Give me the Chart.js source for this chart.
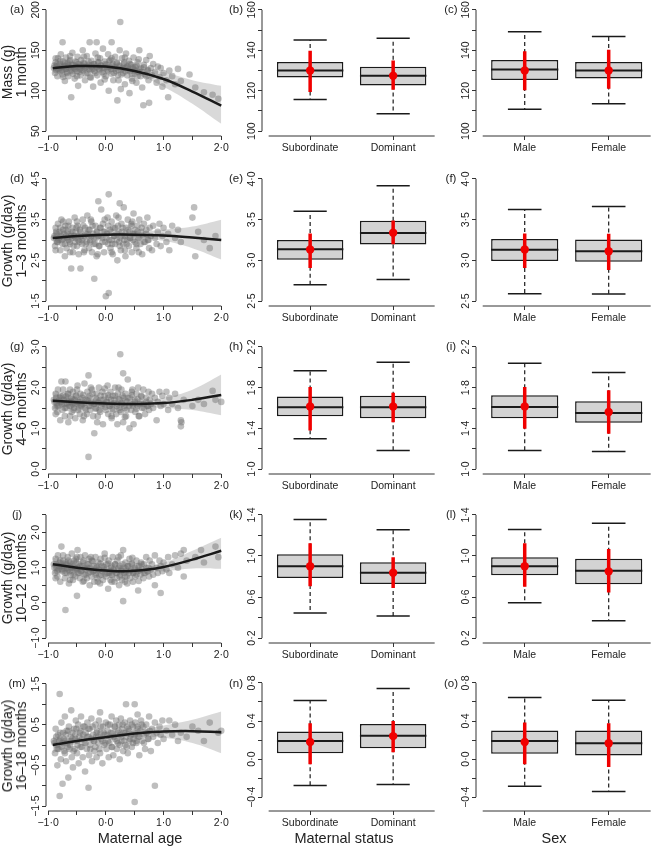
<!DOCTYPE html>
<html>
<head>
<meta charset="utf-8">
<script src="https://cdn.jsdelivr.net/npm/chart.js@4.4.0/dist/chart.umd.min.js"></script>
<style>
  body { margin: 0; background: #fff; width: 651px; height: 848px; overflow: hidden; position: relative;
         font-family: "Liberation Sans", Arial, sans-serif; color: #222; }
  canvas { position: absolute; left: 0; top: 0; }
  .tag { position: absolute; font-size: 11.5px; transform: translate(-50%, -50%); white-space: nowrap; }
  .ytitle { position: absolute; font-size: 14px; line-height: 14px; text-align: center; white-space: nowrap;
            transform: translate(-50%, -50%) rotate(-90deg); }
  .xtitle { position: absolute; font-size: 14.5px; transform: translate(-50%, -50%); white-space: nowrap; }
</style>
</head>
<body>
<script>
// ---- data ----
const ageTicks = [-1, -0.5, 0, 0.5, 1, 1.5, 2];
const fitX = [-0.92, -0.5, 0, 0.5, 1, 1.5, 2];
const statusCats = ["Subordinate", "Dominant"];
const sexCats = ["Male", "Female"];

// (a)-(c) mass at 1 month
const massPts = [[-0.9,128],[-0.88,122],[-0.87,135],[-0.85,130],[-0.84,118],[-0.83,140],[-0.82,126],[-0.8,133],[-0.79,124],[-0.78,145],[-0.77,129],[-0.75,160],[-0.75,120],[-0.74,136],[-0.72,131],[-0.71,112],[-0.7,127],[-0.69,141],[-0.68,123],[-0.66,134],[-0.65,118],[-0.64,129],[-0.62,138],[-0.61,125],[-0.6,92],[-0.59,132],[-0.58,147],[-0.57,121],[-0.55,128],[-0.54,115],[-0.53,136],[-0.52,130],[-0.5,124],[-0.49,142],[-0.48,106],[-0.47,133],[-0.45,127],[-0.44,119],[-0.43,138],[-0.41,131],[-0.4,150],[-0.39,125],[-0.37,134],[-0.36,113],[-0.35,129],[-0.33,143],[-0.32,122],[-0.3,132],[-0.29,127],[-0.28,160],[-0.27,117],[-0.25,137],[-0.24,129],[-0.22,105],[-0.21,133],[-0.2,124],[-0.18,146],[-0.17,130],[-0.16,160],[-0.15,119],[-0.13,135],[-0.12,127],[-0.1,140],[-0.09,110],[-0.08,131],[-0.06,123],[-0.05,152],[-0.03,128],[-0.02,136],[0,118],[0.01,132],[0.03,126],[0.04,145],[0.05,100],[0.07,129],[0.08,138],[0.1,160],[0.1,121],[0.12,133],[0.13,113],[0.15,127],[0.16,142],[0.18,124],[0.19,135],[0.2,88],[0.21,119],[0.23,131],[0.24,150],[0.25,185],[0.26,102],[0.27,126],[0.28,140],[0.3,122],[0.31,133],[0.33,108],[0.34,128],[0.35,146],[0.37,119],[0.38,130],[0.4,137],[0.41,97],[0.42,124],[0.44,132],[0.45,115],[0.47,127],[0.48,141],[0.5,121],[0.51,129],[0.53,110],[0.55,135],[0.56,123],[0.58,150],[0.6,118],[0.61,128],[0.63,104],[0.65,82],[0.66,132],[0.68,120],[0.7,138],[0.72,125],[0.74,113],[0.75,85],[0.76,143],[0.78,128],[0.8,119],[0.82,133],[0.85,123],[0.88,110],[0.9,130],[0.93,117],[0.95,128],[0.98,105],[1.0,122],[1.05,113],[1.08,92],[1.1,125],[1.15,118],[1.2,108],[1.25,127],[1.3,112],[1.45,120],[1.55,104],[1.7,98],[1.85,95],[1.95,90]];
const massCore = [[-0.89,131],[-0.86,126],[-0.84,133],[-0.81,128],[-0.79,137],[-0.76,125],[-0.73,130],[-0.71,134],[-0.69,127],[-0.67,122],[-0.65,131],[-0.63,136],[-0.6,128],[-0.58,124],[-0.56,132],[-0.53,127],[-0.51,135],[-0.49,129],[-0.46,123],[-0.44,131],[-0.42,126],[-0.39,134],[-0.37,128],[-0.35,121],[-0.32,130],[-0.3,136],[-0.27,125],[-0.25,131],[-0.23,127],[-0.2,133],[-0.18,122],[-0.16,129],[-0.13,135],[-0.11,126],[-0.09,131],[-0.06,128],[-0.04,121],[-0.01,133],[0.02,129],[0.04,124],[0.06,137],[0.09,127],[0.11,131],[0.14,122],[0.16,129],[0.19,134],[0.22,126],[0.24,130],[0.27,120],[0.29,128],[0.32,135],[0.34,124],[0.36,130],[0.39,126],[0.42,133],[0.45,121],[0.47,129],[0.5,125],[0.53,131],[0.55,118],[0.58,127],[0.62,123],[0.66,129],[0.7,118],[0.73,126],[-0.87,140],[-0.74,117],[-0.62,143],[-0.5,118],[-0.38,142],[-0.26,116],[-0.14,141],[-0.02,114],[0.1,140],[0.22,113],[0.33,141],[0.46,112],[0.57,139]];
const massFit = [127.7, 130.5, 129.8, 124.5, 114.5, 99, 81.5];
const massLo = [121, 128, 127.5, 121, 105, 84, 59];
const massHi = [135, 133, 132, 128, 123, 113, 106];
const massTicks = [50, 100, 150, 200];
const massBoxTicks = [100, 110, 120, 130, 140, 150, 160];
// box rows: [lower whisker, q1, median, q3, upper whisker]; estimate rows: [mean, lower, upper]
const massStatusBox = [[115.6, 126.5, 130, 134.2, 145.1], [108.6, 122.6, 127.4, 131.8, 146]];
const massStatusEst = [[130, 119.4, 139.8], [127.4, 120.5, 135]];
const massSexBox = [[110.8, 125.3, 130.5, 135.2, 149.2], [113.6, 126, 130, 134.2, 146.8]];
const massSexEst = [[130, 120.2, 139.5], [130, 121, 140.3]];

// (d)-(f) growth 1-3 months
const g13Pts = [[-0.9,3.05],[-0.88,2.85],[-0.87,3.3],[-0.85,3.15],[-0.84,2.95],[-0.83,3.4],[-0.82,3.0],[-0.8,3.2],[-0.79,2.75],[-0.78,3.1],[-0.77,3.5],[-0.75,2.9],[-0.74,3.25],[-0.72,3.05],[-0.71,2.6],[-0.7,3.35],[-0.69,3.1],[-0.68,2.8],[-0.66,3.2],[-0.65,3.0],[-0.64,3.45],[-0.62,2.9],[-0.61,3.15],[-0.6,2.3],[-0.59,3.05],[-0.58,3.3],[-0.57,2.7],[-0.55,3.1],[-0.54,3.55],[-0.53,2.95],[-0.52,3.2],[-0.5,2.85],[-0.49,3.35],[-0.48,3.0],[-0.47,2.65],[-0.45,3.25],[-0.44,2.3],[-0.43,3.1],[-0.41,2.9],[-0.4,3.5],[-0.39,3.05],[-0.37,2.75],[-0.36,3.3],[-0.35,3.15],[-0.33,2.95],[-0.32,3.6],[-0.3,3.1],[-0.29,2.8],[-0.28,3.25],[-0.27,3.0],[-0.25,3.45],[-0.24,2.7],[-0.22,3.15],[-0.21,2.9],[-0.2,2.05],[-0.18,3.35],[-0.17,3.05],[-0.16,2.6],[-0.15,3.2],[-0.13,3.95],[-0.12,2.85],[-0.1,3.3],[-0.09,3.1],[-0.08,3.75],[-0.06,2.95],[-0.05,3.4],[-0.03,2.7],[-0.02,3.2],[0,1.62],[0.01,3.05],[0.03,3.55],[0.04,2.9],[0.05,4.12],[0.05,1.7],[0.07,3.25],[0.08,2.8],[0.1,3.45],[0.1,3.0],[0.12,2.65],[0.13,3.3],[0.15,3.1],[0.16,2.9],[0.18,3.6],[0.19,3.15],[0.2,2.5],[0.21,3.35],[0.23,2.95],[0.24,3.9],[0.25,3.05],[0.26,2.75],[0.27,3.4],[0.28,3.2],[0.3,2.9],[0.31,3.8],[0.33,3.1],[0.34,2.6],[0.35,3.3],[0.37,3.0],[0.38,3.5],[0.4,2.85],[0.41,3.2],[0.42,3.05],[0.44,3.4],[0.45,2.7],[0.47,3.15],[0.48,3.65],[0.5,2.95],[0.51,3.25],[0.53,2.8],[0.55,3.35],[0.56,3.05],[0.58,3.5],[0.6,2.9],[0.61,3.2],[0.63,2.65],[0.65,3.1],[0.66,3.4],[0.68,2.95],[0.7,3.25],[0.72,3.55],[0.74,3.0],[0.75,2.8],[0.76,3.3],[0.78,3.1],[0.8,2.75],[0.82,3.35],[0.85,3.05],[0.88,2.9],[0.9,3.2],[0.93,3.4],[0.95,2.85],[0.98,3.1],[1.0,3.3],[1.05,2.95],[1.08,3.15],[1.1,2.75],[1.15,3.35],[1.2,3.05],[1.25,3.25],[1.3,2.95],[1.5,3.55],[1.53,3.8],[1.55,2.6],[1.6,3.2],[1.7,3.0],[1.8,2.8],[1.9,3.1]];
const g13Core = [[-0.89,3.1],[-0.86,3.2],[-0.84,2.95],[-0.81,3.05],[-0.79,3.3],[-0.76,3.0],[-0.73,3.15],[-0.71,2.9],[-0.69,3.25],[-0.67,3.05],[-0.65,3.35],[-0.63,2.95],[-0.6,3.1],[-0.58,3.2],[-0.56,2.85],[-0.53,3.05],[-0.51,3.3],[-0.49,3.1],[-0.46,2.95],[-0.44,3.2],[-0.42,3.0],[-0.39,3.35],[-0.37,3.1],[-0.35,2.9],[-0.32,3.15],[-0.3,3.25],[-0.27,2.95],[-0.25,3.1],[-0.23,3.35],[-0.2,3.05],[-0.18,2.9],[-0.16,3.2],[-0.13,3.1],[-0.11,2.85],[-0.09,3.3],[-0.06,3.05],[-0.04,3.2],[-0.01,2.95],[0.02,3.15],[0.04,3.35],[0.06,3.0],[0.09,3.2],[0.11,2.9],[0.14,3.1],[0.16,3.3],[0.19,3.0],[0.22,3.2],[0.24,2.85],[0.27,3.1],[0.29,3.3],[0.32,3.0],[0.34,3.15],[0.36,2.9],[0.39,3.25],[0.42,3.05],[0.45,3.35],[0.47,3.0],[0.5,3.15],[0.53,2.9],[0.55,3.2],[0.58,3.05],[0.62,3.3],[0.66,2.95],[0.7,3.15],[0.73,3.0],[-0.87,2.75],[-0.74,3.45],[-0.62,2.7],[-0.5,3.45],[-0.38,2.7],[-0.26,3.5],[-0.14,2.65],[-0.02,3.5],[0.1,2.7],[0.22,3.55],[0.33,2.75],[0.46,3.45],[0.57,2.7]];
const g13Fit = [3.05, 3.1, 3.13, 3.13, 3.11, 3.06, 3.0];
const g13Lo = [2.88, 3.05, 3.09, 3.07, 2.98, 2.8, 2.52];
const g13Hi = [3.25, 3.16, 3.17, 3.19, 3.25, 3.33, 3.5];
const g13Ticks = [1.5, 2, 2.5, 3, 3.5, 4, 4.5];
const g13BoxTicks = [2.5, 3, 3.5, 4];
const g13StatusBox = [[2.7, 3.008, 3.138, 3.25, 3.603], [2.765, 3.194, 3.336, 3.486, 3.915]];
const g13StatusEst = [[3.134, 2.907, 3.33], [3.34, 3.198, 3.49]];
const g13SexBox = [[2.591, 2.992, 3.13, 3.263, 3.623], [2.587, 2.984, 3.113, 3.255, 3.66]];
const g13SexEst = [[3.134, 2.907, 3.33], [3.113, 2.883, 3.328]];

// (g)-(i) growth 4-6 months
const g46Pts = [[-0.9,1.7],[-0.88,1.5],[-0.87,1.85],[-0.85,1.62],[-0.84,1.4],[-0.83,1.95],[-0.82,1.55],[-0.8,1.75],[-0.79,1.2],[-0.78,1.65],[-0.77,2.15],[-0.75,1.45],[-0.74,1.8],[-0.72,1.6],[-0.71,1.3],[-0.7,2.15],[-0.69,1.7],[-0.68,1.5],[-0.66,1.85],[-0.65,1.15],[-0.64,1.65],[-0.62,1.95],[-0.61,1.55],[-0.6,1.75],[-0.59,1.4],[-0.58,1.6],[-0.57,1.9],[-0.55,1.5],[-0.54,1.7],[-0.53,1.25],[-0.52,1.8],[-0.5,1.6],[-0.49,2.05],[-0.48,1.45],[-0.47,1.65],[-0.45,1.35],[-0.44,1.85],[-0.43,1.55],[-0.41,1.75],[-0.4,1.2],[-0.39,1.6],[-0.37,2.1],[-0.36,1.5],[-0.35,1.7],[-0.33,1.35],[-0.32,1.9],[-0.3,2.3],[-0.3,0.3],[-0.29,1.55],[-0.28,1.8],[-0.27,1.45],[-0.25,1.65],[-0.24,1.95],[-0.22,1.3],[-0.21,1.6],[-0.2,0.88],[-0.18,1.75],[-0.17,1.5],[-0.16,1.85],[-0.15,1.15],[-0.13,1.65],[-0.12,2.0],[-0.1,1.4],[-0.09,1.7],[-0.08,1.55],[-0.06,1.9],[-0.05,1.1],[-0.03,1.6],[-0.02,1.8],[0,1.45],[0.01,1.65],[0.03,2.05],[0.04,1.35],[0.05,1.75],[0.07,1.55],[0.08,1.9],[0.1,1.25],[0.1,1.6],[0.12,1.8],[0.13,1.45],[0.15,1.7],[0.16,2.0],[0.18,1.35],[0.19,1.6],[0.2,1.1],[0.21,1.85],[0.23,1.5],[0.24,1.7],[0.25,2.82],[0.26,1.4],[0.27,1.95],[0.28,1.6],[0.3,2.35],[0.3,1.15],[0.31,1.75],[0.33,1.5],[0.34,1.85],[0.35,1.3],[0.37,1.65],[0.38,2.2],[0.4,1.55],[0.41,1.0],[0.42,1.75],[0.44,1.45],[0.45,1.9],[0.47,1.6],[0.48,1.1],[0.5,1.7],[0.51,1.4],[0.53,1.85],[0.55,1.55],[0.56,2.0],[0.58,1.3],[0.6,1.65],[0.61,1.8],[0.63,1.5],[0.65,1.95],[0.66,1.6],[0.68,1.35],[0.7,1.75],[0.72,1.55],[0.74,1.9],[0.75,1.45],[0.76,1.7],[0.78,1.6],[0.8,1.85],[0.82,1.5],[0.85,1.75],[0.88,1.2],[0.9,1.65],[0.93,1.9],[0.95,1.55],[0.98,1.8],[1.0,1.6],[1.05,1.9],[1.08,1.45],[1.1,1.75],[1.15,1.6],[1.2,1.85],[1.25,1.5],[1.3,1.05],[1.3,1.2],[1.31,1.15],[1.35,1.7],[1.5,1.55],[1.6,1.7],[1.7,1.6],[1.85,1.92],[1.9,1.7],[2.0,1.65]];
const g46Core = [[-0.89,1.65],[-0.86,1.75],[-0.84,1.55],[-0.81,1.68],[-0.79,1.8],[-0.76,1.6],[-0.73,1.7],[-0.71,1.5],[-0.69,1.78],[-0.67,1.62],[-0.65,1.85],[-0.63,1.55],[-0.6,1.65],[-0.58,1.72],[-0.56,1.45],[-0.53,1.6],[-0.51,1.8],[-0.49,1.65],[-0.46,1.5],[-0.44,1.7],[-0.42,1.58],[-0.39,1.82],[-0.37,1.62],[-0.35,1.45],[-0.32,1.68],[-0.3,1.75],[-0.27,1.55],[-0.25,1.62],[-0.23,1.85],[-0.2,1.6],[-0.18,1.48],[-0.16,1.7],[-0.13,1.62],[-0.11,1.45],[-0.09,1.8],[-0.06,1.6],[-0.04,1.7],[-0.01,1.52],[0.02,1.65],[0.04,1.82],[0.06,1.55],[0.09,1.7],[0.11,1.48],[0.14,1.62],[0.16,1.8],[0.19,1.55],[0.22,1.72],[0.24,1.45],[0.27,1.62],[0.29,1.8],[0.32,1.55],[0.34,1.68],[0.36,1.45],[0.39,1.75],[0.42,1.6],[0.45,1.82],[0.47,1.55],[0.5,1.65],[0.53,1.48],[0.55,1.72],[0.58,1.6],[0.62,1.78],[0.66,1.5],[0.7,1.65],[0.73,1.55],[-0.87,1.35],[-0.74,1.95],[-0.62,1.3],[-0.5,1.95],[-0.38,1.3],[-0.26,2.0],[-0.14,1.3],[-0.02,1.98],[0.1,1.3],[0.22,2.0],[0.33,1.28],[0.46,1.95],[0.57,1.3]];
const g46Fit = [1.68, 1.64, 1.61, 1.6, 1.62, 1.7, 1.82];
const g46Lo = [1.47, 1.57, 1.56, 1.55, 1.5, 1.45, 1.32];
const g46Hi = [1.9, 1.72, 1.66, 1.66, 1.75, 1.95, 2.32];
const g46Ticks = [0, 0.5, 1, 1.5, 2, 2.5, 3];
const g46BoxTicks = [1, 1.2, 1.4, 1.6, 1.8, 2, 2.2];
const g46StatusBox = [[1.299, 1.518, 1.608, 1.714, 1.965], [1.183, 1.499, 1.608, 1.721, 2.049]];
const g46StatusEst = [[1.614, 1.379, 1.807], [1.614, 1.46, 1.75]];
const g46SexBox = [[1.183, 1.499, 1.611, 1.724, 2.039], [1.174, 1.454, 1.55, 1.666, 1.949]];
const g46SexEst = [[1.614, 1.396, 1.807], [1.56, 1.347, 1.775]];

// (j)-(l) growth 10-12 months
const g1012Pts = [[-0.9,1.1],[-0.88,0.85],[-0.87,1.25],[-0.85,1.0],[-0.84,0.75],[-0.83,1.35],[-0.82,0.95],[-0.8,1.15],[-0.79,0.6],[-0.78,1.05],[-0.77,1.6],[-0.75,0.9],[-0.74,1.2],[-0.72,1.0],[-0.71,0.7],[-0.7,-0.2],[-0.69,1.1],[-0.68,0.85],[-0.66,1.3],[-0.65,0.95],[-0.64,0.55],[-0.62,1.15],[-0.61,0.8],[-0.6,1.05],[-0.59,1.4],[-0.58,0.9],[-0.57,0.65],[-0.55,1.2],[-0.54,1.0],[-0.53,0.75],[-0.52,1.25],[-0.5,0.2],[-0.5,0.95],[-0.49,1.5],[-0.48,0.85],[-0.47,1.1],[-0.45,0.7],[-0.44,1.3],[-0.43,0.9],[-0.41,1.05],[-0.4,0.6],[-0.39,1.15],[-0.37,0.8],[-0.36,1.35],[-0.35,0.95],[-0.33,0.7],[-0.32,1.1],[-0.3,0.85],[-0.29,1.25],[-0.28,0.5],[-0.27,1.0],[-0.25,0.75],[-0.24,1.2],[-0.22,0.9],[-0.21,1.05],[-0.2,0.6],[-0.18,1.3],[-0.17,0.85],[-0.16,1.0],[-0.15,0.7],[-0.13,1.15],[-0.12,0.95],[-0.1,0.55],[-0.09,1.25],[-0.08,0.8],[-0.06,1.05],[-0.05,0.65],[-0.03,0.95],[-0.02,1.4],[0,0.75],[0.01,1.1],[0.03,0.85],[0.04,0.4],[0.05,1.2],[0.07,0.9],[0.08,0.65],[0.1,1.05],[0.1,0.8],[0.12,1.3],[0.13,0.95],[0.15,0.6],[0.16,1.1],[0.18,0.85],[0.19,0.7],[0.2,1.2],[0.21,0.95],[0.23,0.5],[0.24,1.05],[0.25,0.8],[0.26,1.35],[0.27,0.9],[0.28,0.65],[0.3,1.5],[0.3,0.05],[0.31,1.0],[0.33,0.75],[0.34,1.15],[0.35,0.9],[0.37,0.55],[0.38,1.05],[0.4,0.85],[0.41,1.25],[0.42,0.7],[0.44,0.95],[0.45,1.1],[0.47,0.6],[0.48,0.85],[0.5,1.0],[0.51,0.75],[0.53,1.2],[0.55,0.9],[0.56,0.35],[0.58,1.05],[0.6,0.8],[0.61,1.15],[0.63,0.95],[0.65,0.7],[0.66,1.1],[0.68,0.85],[0.7,1.3],[0.72,0.9],[0.74,1.0],[0.75,0.75],[0.76,1.2],[0.78,0.95],[0.8,1.1],[0.82,0.8],[0.85,1.35],[0.85,0.5],[0.88,1.0],[0.9,0.85],[0.93,1.2],[0.95,0.28],[0.95,1.05],[0.98,0.9],[1.0,1.15],[1.05,0.95],[1.08,1.3],[1.1,0.85],[1.15,1.1],[1.2,1.35],[1.25,1.0],[1.3,1.4],[1.35,1.5],[1.35,0.75],[1.4,1.2],[1.55,1.3],[1.65,1.5],[1.7,1.15],[1.9,1.6],[1.95,1.3]];
const g1012Core = [[-0.89,1.0],[-0.86,1.1],[-0.84,0.9],[-0.81,1.05],[-0.79,1.2],[-0.76,0.95],[-0.73,1.05],[-0.71,0.85],[-0.69,1.15],[-0.67,1.0],[-0.65,1.2],[-0.63,0.9],[-0.6,1.0],[-0.58,1.1],[-0.56,0.8],[-0.53,0.95],[-0.51,1.15],[-0.49,1.0],[-0.46,0.85],[-0.44,1.05],[-0.42,0.92],[-0.39,1.2],[-0.37,0.98],[-0.35,0.8],[-0.32,1.0],[-0.3,1.1],[-0.27,0.88],[-0.25,0.95],[-0.23,1.18],[-0.2,0.92],[-0.18,0.8],[-0.16,1.05],[-0.13,0.95],[-0.11,0.78],[-0.09,1.12],[-0.06,0.9],[-0.04,1.02],[-0.01,0.82],[0.02,0.95],[0.04,1.12],[0.06,0.85],[0.09,1.0],[0.11,0.78],[0.14,0.92],[0.16,1.1],[0.19,0.85],[0.22,1.0],[0.24,0.75],[0.27,0.92],[0.29,1.1],[0.32,0.85],[0.34,0.98],[0.36,0.75],[0.39,1.05],[0.42,0.9],[0.45,1.12],[0.47,0.85],[0.5,0.95],[0.53,0.8],[0.55,1.05],[0.58,0.92],[0.62,1.1],[0.66,0.85],[0.7,1.0],[0.73,0.9],[-0.87,0.7],[-0.74,1.35],[-0.62,0.65],[-0.5,1.3],[-0.38,0.62],[-0.26,1.3],[-0.14,0.6],[-0.02,1.28],[0.1,0.6],[0.22,1.3],[0.33,0.6],[0.46,1.28],[0.57,0.62]];
const g1012Fit = [1.1, 1.0, 0.92, 0.91, 1.02, 1.23, 1.48];
const g1012Lo = [0.82, 0.93, 0.88, 0.86, 0.9, 0.98, 0.97];
const g1012Hi = [1.3, 1.07, 0.96, 0.96, 1.14, 1.48, 1.85];
const g1012Ticks = [-1, -0.5, 0, 0.5, 1, 1.5, 2, 2.5];
const g1012BoxTicks = [0.2, 0.4, 0.6, 0.8, 1, 1.2, 1.4];
const g1012StatusBox = [[0.444, 0.785, 0.901, 1.017, 1.355], [0.415, 0.728, 0.837, 0.94, 1.255]];
const g1012StatusEst = [[0.9, 0.705, 1.123], [0.837, 0.689, 0.988]];
const g1012SexBox = [[0.544, 0.811, 0.901, 0.988, 1.258], [0.37, 0.724, 0.856, 0.972, 1.32]];
const g1012SexEst = [[0.9, 0.699, 1.123], [0.85, 0.644, 1.069]];

// (m)-(o) growth 16-18 months
const g1618Pts = [[-0.9,0.1],[-0.88,-0.2],[-0.87,0.4],[-0.85,0.0],[-0.84,-0.5],[-0.83,0.25],[-0.82,-0.1],[-0.8,1.25],[-0.8,-1.25],[-0.79,0.15],[-0.78,-0.35],[-0.77,0.55],[-0.75,-0.95],[-0.75,0.05],[-0.74,0.3],[-0.72,-0.15],[-0.71,0.7],[-0.7,0.1],[-0.69,-0.4],[-0.68,0.35],[-0.66,-0.05],[-0.65,-0.8],[-0.64,0.45],[-0.62,0.0],[-0.61,0.2],[-0.6,0.85],[-0.59,-0.3],[-0.58,0.15],[-0.57,-0.55],[-0.55,0.4],[-0.54,-0.1],[-0.53,0.25],[-0.52,0.6],[-0.5,-0.2],[-0.49,0.1],[-0.48,0.5],[-0.47,-0.45],[-0.45,0.3],[-0.44,-0.05],[-0.43,0.7],[-0.41,0.15],[-0.4,-0.3],[-0.39,0.45],[-0.37,0.05],[-0.36,-0.65],[-0.35,0.3],[-0.33,-0.1],[-0.32,0.55],[-0.3,-1.05],[-0.3,0.2],[-0.29,-0.25],[-0.28,0.4],[-0.27,0.0],[-0.25,0.65],[-0.24,-0.4],[-0.22,0.25],[-0.21,0.1],[-0.2,-0.15],[-0.18,0.5],[-0.17,0.2],[-0.16,-0.3],[-0.15,0.35],[-0.13,0.05],[-0.12,0.6],[-0.1,0.8],[-0.1,-0.2],[-0.09,0.3],[-0.08,0.15],[-0.06,-0.45],[-0.05,0.45],[-0.03,0.0],[-0.02,0.25],[0,0.55],[0.01,-0.1],[0.03,0.35],[0.04,0.1],[0.05,-0.3],[0.07,0.5],[0.08,0.2],[0.1,0.7],[0.1,-0.05],[0.12,0.3],[0.13,-0.25],[0.15,0.45],[0.16,0.15],[0.18,0.6],[0.19,-0.1],[0.2,0.3],[0.21,0.05],[0.23,0.5],[0.24,-0.35],[0.25,0.25],[0.26,0.65],[0.27,0.1],[0.28,0.4],[0.3,-0.15],[0.31,0.3],[0.33,0.55],[0.34,0.0],[0.35,1.0],[0.35,0.2],[0.37,0.45],[0.38,-0.2],[0.4,0.35],[0.41,0.1],[0.42,0.6],[0.44,0.25],[0.45,-0.05],[0.47,0.45],[0.48,0.15],[0.5,1.0],[0.5,-1.4],[0.5,0.3],[0.51,0.55],[0.53,0.05],[0.55,0.75],[0.55,0.4],[0.56,0.2],[0.58,-0.25],[0.6,0.35],[0.61,0.6],[0.63,0.1],[0.65,0.45],[0.66,0.25],[0.68,-0.1],[0.7,0.5],[0.72,0.3],[0.74,0.15],[0.75,0.7],[0.76,0.35],[0.78,-0.15],[0.8,0.4],[0.82,0.2],[0.85,0.55],[0.85,-1.0],[0.88,0.3],[0.9,0.05],[0.93,0.45],[0.95,0.25],[0.98,0.6],[1.0,0.15],[1.05,0.35],[1.1,0.6],[1.15,0.25],[1.2,0.5],[1.25,0.1],[1.3,0.3],[1.4,0.2],[1.5,0.45],[1.6,0.35],[1.7,0.1],[1.8,0.55],[1.95,0.3],[2.0,0.35]];
const g1618Core = [[-0.89,0.05],[-0.86,0.2],[-0.84,-0.1],[-0.81,0.1],[-0.79,0.3],[-0.76,-0.05],[-0.73,0.15],[-0.71,-0.2],[-0.69,0.25],[-0.67,0.05],[-0.65,0.35],[-0.63,-0.1],[-0.6,0.1],[-0.58,0.3],[-0.56,-0.15],[-0.53,0.15],[-0.51,0.4],[-0.49,0.0],[-0.46,0.2],[-0.44,0.35],[-0.42,-0.05],[-0.39,0.25],[-0.37,0.45],[-0.35,0.05],[-0.32,0.2],[-0.3,0.4],[-0.27,-0.1],[-0.25,0.15],[-0.23,0.45],[-0.2,0.1],[-0.18,-0.05],[-0.16,0.3],[-0.13,0.2],[-0.11,-0.1],[-0.09,0.45],[-0.06,0.1],[-0.04,0.3],[-0.01,0.05],[0.02,0.25],[0.04,0.5],[0.06,0.05],[0.09,0.3],[0.11,-0.05],[0.14,0.2],[0.16,0.45],[0.19,0.1],[0.22,0.35],[0.24,0.0],[0.27,0.2],[0.29,0.5],[0.32,0.1],[0.34,0.3],[0.36,-0.05],[0.39,0.4],[0.42,0.15],[0.45,0.5],[0.47,0.05],[0.5,0.25],[0.53,0.1],[0.55,0.45],[0.58,0.2],[0.62,0.5],[0.66,0.05],[0.7,0.3],[0.73,0.15]];
const g1618Fit = [0.0, 0.1, 0.19, 0.28, 0.33, 0.34, 0.31];
const g1618Lo = [-0.2, 0.03, 0.14, 0.2, 0.18, 0.05, -0.2];
const g1618Hi = [0.2, 0.17, 0.24, 0.36, 0.48, 0.62, 0.82];
const g1618Ticks = [-1.5, -1, -0.5, 0, 0.5, 1, 1.5];
const g1618BoxTicks = [-0.4, -0.2, 0, 0.2, 0.4, 0.6, 0.8];
const g1618StatusBox = [[-0.276, 0.062, 0.19, 0.29, 0.614], [-0.266, 0.114, 0.245, 0.369, 0.741]];
const g1618StatusEst = [[0.179, -0.055, 0.376], [0.241, 0.072, 0.4]];
const g1618SexBox = [[-0.286, 0.055, 0.19, 0.3, 0.648], [-0.341, 0.038, 0.166, 0.3, 0.617]];
const g1618SexEst = [[0.179, -0.055, 0.383], [0.166, -0.083, 0.376]];

// ---- layout ----
const W = 700, H = 848, TICK = 4, XH = TICK + 2 + 12;
const FONT = '"Liberation Sans", Arial, sans-serif';
const INK = "#1a1a1a", AX = "#333", RED = "#f00000";
Chart.defaults.font.family = FONT;

const cols = [
  { left: 46, right: 228, x: [-1.037, 2.117] },
  { left: 262, right: 441.3, x: [0.42, 2.58] },
  { left: 476, right: 657.4, x: [0.42, 2.58] }
];

const rows = [
  { top: 5, bottom: 138, dec: 0, title: ["Mass (g)", "1 month"],
    pts: massPts.concat(massCore), fit: massFit, lo: massLo, hi: massHi, ageY: [44, 206], ageT: massTicks,
    boxY: [97.6, 162.4], boxT: massBoxTicks,
    status: [massStatusBox, massStatusEst], sex: [massSexBox, massSexEst] },
  { top: 174, bottom: 308, dec: 1, title: ["Growth (g/day)", "1\u20133 months"],
    pts: g13Pts.concat(g13Core), fit: g13Fit, lo: g13Lo, hi: g13Hi, ageY: [1.38, 4.62], ageT: g13Ticks,
    boxY: [2.44, 4.06], boxT: g13BoxTicks,
    status: [g13StatusBox, g13StatusEst], sex: [g13SexBox, g13SexEst] },
  { top: 342, bottom: 476, dec: 1, title: ["Growth (g/day)", "4\u20136 months"],
    pts: g46Pts.concat(g46Core), fit: g46Fit, lo: g46Lo, hi: g46Hi, ageY: [-0.12, 3.12], ageT: g46Ticks,
    boxY: [0.952, 2.248], boxT: g46BoxTicks,
    status: [g46StatusBox, g46StatusEst], sex: [g46SexBox, g46SexEst] },
  { top: 510, bottom: 645, dec: 1, title: ["Growth (g/day)", "10\u201312 months"],
    pts: g1012Pts.concat(g1012Core), fit: g1012Fit, lo: g1012Lo, hi: g1012Hi, ageY: [-1.14, 2.64], ageT: g1012Ticks,
    boxY: [0.152, 1.448], boxT: g1012BoxTicks,
    status: [g1012StatusBox, g1012StatusEst], sex: [g1012SexBox, g1012SexEst] },
  { top: 679, bottom: 813, dec: 1, title: ["Growth (g/day)", "16\u201318 months"],
    pts: g1618Pts.concat(g1618Core), fit: g1618Fit, lo: g1618Lo, hi: g1618Hi, ageY: [-1.62, 1.62], ageT: g1618Ticks,
    boxY: [-0.545, 0.841], boxT: g1618BoxTicks,
    status: [g1618StatusBox, g1618StatusEst], sex: [g1618SexBox, g1618SexEst] }
];

function fmt(v, dec) {
  const s = Math.abs(v).toFixed(dec).replace(".", "\u00b7");
  return (v < -1e-9 ? "\u2212" : "") + s;
}

// R-style axis lines (first to last tick) and rotated y tick labels
function rAxes(yTicks, dec, xLine) {
  return {
    id: "rAxes",
    afterDraw(chart) {
      const { ctx, chartArea: a, scales: { x, y } } = chart;
      ctx.save();
      ctx.strokeStyle = AX;
      ctx.lineWidth = 1;
      ctx.beginPath();
      ctx.moveTo(a.left, y.getPixelForValue(yTicks[0]));
      ctx.lineTo(a.left, y.getPixelForValue(yTicks[yTicks.length - 1]));
      ctx.moveTo(x.getPixelForValue(xLine[0]), a.bottom);
      ctx.lineTo(x.getPixelForValue(xLine[1]), a.bottom);
      ctx.stroke();
      ctx.fillStyle = "#222";
      ctx.font = "10.5px " + FONT;
      ctx.textAlign = "center";
      ctx.textBaseline = "middle";
      const step = yTicks.length > 4 ? 2 : 1;
      yTicks.forEach((v, i) => {
        if (i % step) return;
        ctx.save();
        ctx.translate(a.left - 10, y.getPixelForValue(v));
        ctx.rotate(-Math.PI / 2);
        ctx.fillText(fmt(v, dec), 0, 0);
        ctx.restore();
      });
      ctx.restore();
    }
  };
}

function newCanvas() {
  const c = document.createElement("canvas");
  c.width = W;
  c.height = H;
  document.body.appendChild(c);
  return c;
}

function baseOptions(col, row, yRange, yTicks, xTicks, xLabel) {
  const fix = (list) => (s) => { s.ticks = list.map((v) => ({ value: v })); };
  return {
    responsive: false,
    animation: false,
    events: [],
    layout: { padding: { left: col.left - TICK, right: W - col.right, top: row.top, bottom: H - row.bottom - XH } },
    plugins: { legend: { display: false }, tooltip: { enabled: false } },
    scales: {
      x: {
        type: "linear", min: col.x[0], max: col.x[1], offset: false,
        afterBuildTicks: fix(xTicks),
        grid: { drawOnChartArea: false, tickLength: TICK, color: AX, tickColor: AX, offset: false },
        border: { display: false },
        ticks: { autoSkip: false, maxRotation: 0, minRotation: 0, padding: 2, color: "#222",
                 font: { size: 10.5, lineHeight: "12px" }, callback: xLabel }
      },
      y: {
        type: "linear", min: yRange[0], max: yRange[1],
        afterBuildTicks: fix(yTicks),
        grid: { drawOnChartArea: false, tickLength: TICK, color: AX, tickColor: AX },
        border: { display: false },
        ticks: { display: false }
      }
    }
  };
}

function ageChart(row) {
  const pt = (arr) => fitX.map((x, i) => ({ x: x, y: arr[i] }));
  new Chart(newCanvas(), {
    type: "scatter",
    data: {
      datasets: [
        { type: "line", data: pt(row.fit), borderColor: INK, borderWidth: 2.5, pointRadius: 0, tension: 0.4 },
        { data: row.pts.map((p) => ({ x: p[0], y: p[1] })), pointRadius: 3.3,
          backgroundColor: "rgba(110,110,110,0.45)", borderWidth: 0 },
        { type: "line", data: pt(row.hi), borderColor: "transparent", borderWidth: 1, pointRadius: 0,
          tension: 0.4, fill: "+1", backgroundColor: "rgba(185,185,185,0.55)" },
        { type: "line", data: pt(row.lo), borderColor: "transparent", borderWidth: 1, pointRadius: 0, tension: 0.4 }
      ]
    },
    options: baseOptions(cols[0], row, row.ageY, row.ageT, ageTicks,
      (v, i) => (i % 2 ? "" : fmt(v, 1))),
    plugins: [rAxes(row.ageT, row.dec, [ageTicks[0], ageTicks[ageTicks.length - 1]])]
  });
}

function gaps(segs) {
  return segs.flatMap((s) => [{ x: s[0][0], y: s[0][1] }, { x: s[1][0], y: s[1][1] }, { x: s[1][0], y: null }]);
}

function boxChart(col, row, box, est, cats) {
  const at = (i) => i + 1;
  new Chart(newCanvas(), {
    type: "scatter",
    data: {
      datasets: [
        { data: est.map((e, i) => ({ x: at(i), y: e[0] })), pointRadius: 4.2, backgroundColor: RED, borderWidth: 0 },
        { type: "line", data: gaps(est.map((e, i) => [[at(i), e[1]], [at(i), e[2]]])),
          borderColor: RED, borderWidth: 3.5, pointRadius: 0, spanGaps: false },
        { type: "line", data: gaps(box.map((b, i) => [[at(i) - 0.4, b[2]], [at(i) + 0.4, b[2]]])),
          borderColor: INK, borderWidth: 2, pointRadius: 0, spanGaps: false },
        { type: "bar", data: box.map((b, i) => ({ x: at(i), y: [b[1], b[3]] })),
          backgroundColor: "#d3d3d3", borderColor: INK, borderWidth: 1.5, borderSkipped: false,
          barPercentage: 0.8, categoryPercentage: 1 },
        { type: "line", data: gaps(box.flatMap((b, i) => [[[at(i) - 0.2, b[0]], [at(i) + 0.2, b[0]]],
                                                         [[at(i) - 0.2, b[4]], [at(i) + 0.2, b[4]]]])),
          borderColor: INK, borderWidth: 1.5, pointRadius: 0, spanGaps: false },
        { type: "line", data: gaps(box.flatMap((b, i) => [[[at(i), b[3]], [at(i), b[4]]],
                                                         [[at(i), b[1]], [at(i), b[0]]]])),
          borderColor: INK, borderWidth: 1.2, borderDash: [4, 3], pointRadius: 0, spanGaps: false }
      ]
    },
    options: baseOptions(col, row, row.boxY, row.boxT, [1, 2], (v) => cats[Math.round(v) - 1]),
    plugins: [rAxes(row.boxT, row.dec, [0.5, 2.5])]
  });
}

function addText(cls, x, y, html) {
  const d = document.createElement("div");
  d.className = cls;
  d.style.left = x + "px";
  d.style.top = y + "px";
  d.innerHTML = html;
  document.body.appendChild(d);
}

const tagX = [17, 236, 451];
rows.forEach((row, r) => {
  ageChart(row);
  boxChart(cols[1], row, row.status[0], row.status[1], statusCats);
  boxChart(cols[2], row, row.sex[0], row.sex[1], sexCats);
  for (let c = 0; c < 3; c++) {
    addText("tag", tagX[c], row.top + 4, "(" + String.fromCharCode(97 + r * 3 + c) + ")");
  }
  addText("ytitle", 14, (row.top + row.bottom) / 2, row.title.join("<br>"));
});
addText("xtitle", 140, 838, "Maternal age");
addText("xtitle", 344, 838, "Maternal status");
addText("xtitle", 554, 838, "Sex");
</script>
</body>
</html>
